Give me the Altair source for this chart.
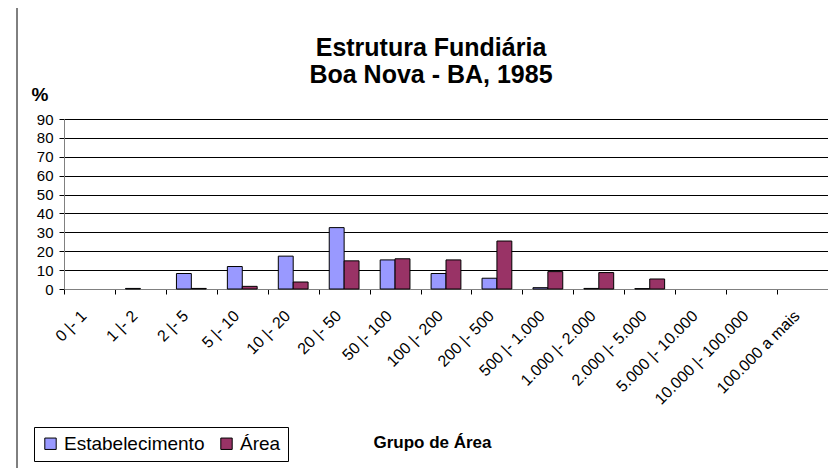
import altair as alt
import pandas as pd

categorias = ["0 |- 1", "1 |- 2", "2 |- 5", "5 |- 10", "10 |- 20", "20 |- 50",
              "50 |- 100", "100 |- 200", "200 |- 500", "500 |- 1.000",
              "1.000 |- 2.000", "2.000 |- 5.000", "5.000 |- 10.000",
              "10.000 |- 100.000", "100.000 a mais"]
estabelecimento = [0, 0.3, 8.2, 11.9, 17.4, 32.5, 15.4, 8.2, 5.7, 0.7, 0.3, 0.2, 0, 0, 0]
area = [0, 0, 0.3, 1.4, 3.7, 14.9, 16.0, 15.4, 25.4, 9.2, 8.7, 5.3, 0, 0, 0]
series = ["Estabelecimento", "Área"]
cores = ["#9999FF", "#993366"]
y_ticks = list(range(0, 100, 10))
titulo = ["Estrutura Fundiária", "Boa Nova - BA, 1985"]

rows = []
for c, e, a in zip(categorias, estabelecimento, area):
    rows.append({"grupo": c, "serie": series[0], "valor": e})
    rows.append({"grupo": c, "serie": series[1], "valor": a})
df = pd.DataFrame(rows)

FONT = "Liberation Sans"

bars = alt.Chart(df).transform_filter(alt.datum.valor > 0).mark_bar(
    stroke="black", strokeWidth=1).encode(
    x=alt.X("grupo:N", sort=categorias,
            scale=alt.Scale(domain=categorias, paddingInner=0, paddingOuter=0),
            axis=alt.Axis(title="Grupo de Área", labelAngle=-45, labelAlign="right",
                          labelBaseline="middle", labelFontSize=16, labelFont=FONT,
                          labelColor="black", labelPadding=19, labelOffset=-6,
                          tickBand="extent", tickSize=5, tickColor="black",
                          domainColor="#808080", domainWidth=1,
                          titleFont=FONT, titleFontSize=17, titleFontWeight="bold",
                          titleColor="black", titleX=368, titleY=158,
                          titleAlign="center", titleBaseline="alphabetic",
                          grid=False, labelOverlap=False)),
    xOffset=alt.XOffset("serie:N", sort=series,
                        scale=alt.Scale(domain=series, paddingInner=0, paddingOuter=0.71)),
    y=alt.Y("valor:Q", scale=alt.Scale(domain=[0, 90], nice=False),
            axis=alt.Axis(title="%", values=y_ticks, labelFontSize=15, labelFont=FONT,
                          labelColor="black", labelPadding=6, tickSize=5,
                          tickColor="black", domainColor="#808080",
                          gridColor="black", gridWidth=1, grid=True,
                          titleFont=FONT, titleFontSize=19, titleFontWeight="bold",
                          titleColor="black", titleAngle=0, titleX=-33, titleY=-19,
                          titleAlign="left", titleBaseline="alphabetic")),
    color=alt.Color("serie:N", sort=series,
                    scale=alt.Scale(domain=series, range=cores),
                    legend=alt.Legend(title=None, orient="none", direction="horizontal",
                                      legendX=-30, legendY=308,
                                      strokeColor="black", padding=7,
                                      symbolType="square", symbolSize=130,
                                      symbolStrokeColor="black", symbolStrokeWidth=1,
                                      labelFont=FONT, labelFontSize=19,
                                      labelColor="black", columnPadding=12,
                                      labelOffset=4)),
)

t1 = alt.Chart(pd.DataFrame({"t": [titulo[0]]})).mark_text(
    font=FONT, fontSize=25, fontWeight="bold", color="black",
    align="center", baseline="alphabetic").encode(
    text="t:N", x=alt.value(367), y=alt.value(-63))
t2 = alt.Chart(pd.DataFrame({"t": [titulo[1]]})).mark_text(
    font=FONT, fontSize=25, fontWeight="bold", color="black",
    align="center", baseline="alphabetic").encode(
    text="t:N", x=alt.value(367), y=alt.value(-36))

frame = alt.Chart(pd.DataFrame({"k": [0]})).mark_rule(color="black", strokeWidth=1).encode(
    x=alt.value(-47), y=alt.value(-111), y2=alt.value(349))

chart = alt.layer(bars, t1, t2, frame).properties(
    width=764, height=170,
    autosize=alt.AutoSizeParams(type="none"),
    padding={"left": 56, "top": 111, "right": 0, "bottom": 179},
).configure_view(stroke=None).configure(background="white")

chart.save("out.html", embed_options={"renderer": "svg", "actions": False})
